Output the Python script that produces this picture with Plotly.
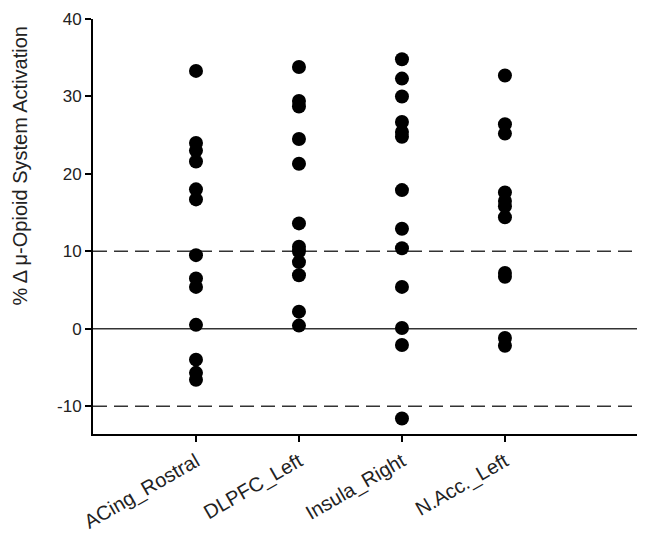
import plotly.graph_objects as go

categories = ["ACing_Rostral", "DLPFC_Left", "Insula_Right", "N.Acc._Left"]
acing = [33.3, 24.0, 23.0, 21.6, 18.0, 16.7, 9.5, 6.5, 5.4, 0.5, -4.0, -5.7, -6.6]
dlpfc = [33.8, 29.4, 28.7, 24.5, 21.3, 13.6, 10.6, 10.0, 8.6, 6.9, 2.2, 0.4]
insula = [34.8, 32.3, 30.0, 26.7, 25.4, 24.8, 17.9, 12.9, 10.4, 5.4, 0.1, -2.1, -11.6]
nacc = [32.7, 26.4, 25.2, 17.6, 16.5, 15.8, 14.4, 7.2, 6.7, -1.2, -2.2]
series = [acing, dlpfc, insula, nacc]
y_ticks = [-10, 0, 10, 20, 30, 40]
y_tick_text = ["-10", "0", "10", "20", "30", "40"]
ref_lines = [(-10, "dash"), (0, "solid"), (10, "dash")]
y_title = "% Δ μ-Opioid System Activation"

fig = go.Figure()
for i, vals in enumerate(series):
    fig.add_trace(go.Scatter(
        x=[i + 1] * len(vals), y=vals, mode="markers",
        marker=dict(color="black", size=14),
        showlegend=False, hoverinfo="y"))

for yv, ds in ref_lines:
    fig.add_shape(type="line", xref="paper", yref="y", x0=0, x1=1, y0=yv, y1=yv,
                  line=dict(color="#333333", width=1.5, dash="14px,7px" if ds == "dash" else "solid"),
                  layer="below")

fig.add_annotation(text=y_title, xref="paper", yref="paper", x=-0.132, y=0.645,
                   textangle=-90, showarrow=False, xanchor="center", yanchor="middle",
                   font=dict(size=20, color="#222"))

fig.update_layout(
    width=637, height=525,
    margin=dict(l=85, r=0, t=11, b=95),
    plot_bgcolor="white", paper_bgcolor="white",
    font=dict(family="Arial, Liberation Sans, sans-serif", size=17, color="#222"),
    xaxis=dict(range=[0, 5.36], tickmode="array", tickvals=[1, 2, 3, 4], ticktext=categories,
               tickangle=-30, ticks="outside", ticklen=6, tickwidth=2, tickcolor="black",
               tickfont=dict(size=20),
               showline=True, linecolor="black", linewidth=2, showgrid=False, zeroline=False),
    yaxis=dict(range=[-13.6, 40], tickmode="array", tickvals=y_ticks, ticktext=y_tick_text,
               ticks="outside", ticklen=6, tickwidth=2, tickcolor="black",
               tickfont=dict(size=17),
               showline=True, linecolor="black", linewidth=2, showgrid=False, zeroline=False),
)
fig.write_html("out.html")
